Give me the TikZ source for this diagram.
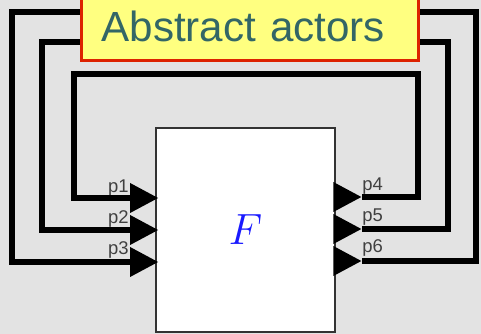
\documentclass[tikz,border=0pt]{standalone}
\usepackage{fontspec}
\setmainfont{Liberation Sans}
\usetikzlibrary{shapes.geometric,positioning}
\definecolor{bggray}{HTML}{E3E3E3}
\definecolor{titlefill}{HTML}{FFFF80}
\definecolor{titleline}{HTML}{DD2200}
\definecolor{titletext}{HTML}{336666}
\definecolor{fblue}{HTML}{1A1AFF}

\begin{document}
\begin{tikzpicture}[x=0.02cm,y=-0.02cm,
  actor/.style={rectangle,draw=black!80,line width=0.05cm,fill=white,minimum width=3.58cm,minimum height=4.08cm,inner sep=0pt},
  port/.style={isosceles triangle,isosceles triangle stretches,fill=black,inner sep=0pt,minimum width=0.6cm,minimum height=0.56cm},
  wire/.style={line width=0.12cm},
  plabel/.style={font=\fontsize{10.5}{12}\selectfont,text=black!75,inner sep=0pt},
  title/.style={rectangle,draw=titleline,line width=0.06cm,fill=titlefill,text=titletext,font=\fontsize{24}{28}\selectfont,align=left,text width=5.94cm,inner xsep=0.4cm,minimum height=1.38cm}
]
  \useasboundingbox (0,0) rectangle (481,334);
  \clip (0,0) rectangle (481,334);
  \fill[bggray] (0,0) rectangle (481,334);

  \node[actor] (F) at (245.5,230) {\fontsize{25}{30}\selectfont\color{fblue}$F$};

  \node[port,anchor=apex] (p1) at (159,198) {};
  \node[port,anchor=apex] (p2) at (159,230) {};
  \node[port,anchor=apex] (p3) at (159,262) {};
  \node[port,anchor=lower side] (p4) at (333,197) {};
  \node[port,anchor=lower side] (p5) at (333,229) {};
  \node[port,anchor=lower side] (p6) at (333,261) {};

  \node[plabel,anchor=base east] (l1) at (129,193) {p1};
  \node[plabel,anchor=base east] (l2) at (129,224) {p2};
  \node[plabel,anchor=base east] (l3) at (129,255) {p3};
  \node[plabel,anchor=base west] (l4) at (362,191) {p4};
  \node[plabel,anchor=base west] (l5) at (362,222) {p5};
  \node[plabel,anchor=base west] (l6) at (362,253) {p6};

  \coordinate (tr1) at (418,74);
  \coordinate (tl1) at (74,74);
  \coordinate (tr2) at (448,42);
  \coordinate (tl2) at (42,42);
  \coordinate (tr3) at (476,12);
  \coordinate (tl3) at (12,12);
  \draw[wire] (p4.apex) -| (tr1) -- (tl1) |- (p1.lower side);
  \draw[wire] (p5.apex) -| (tr2) -- (tl2) |- (p2.lower side);
  \draw[wire] (p6.apex) -| (tr3) -- (tl3) |- (p3.lower side);

  \node[title,anchor=south west] (title) at (80,62) {Abstract actors};
\end{tikzpicture}
\end{document}
